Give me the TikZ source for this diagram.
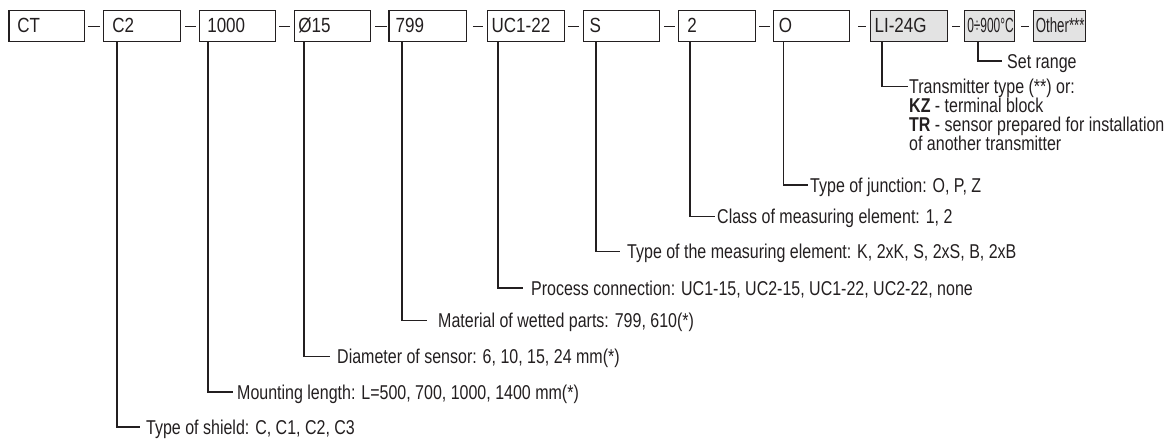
\documentclass[tikz,border=0pt]{standalone}
\usepackage{graphicx}
\usepackage{fontspec}
\setmainfont[FakeStretch=0.8]{Liberation Sans}
\newfontfamily\bxfont[FakeStretch=0.83]{Liberation Sans}
\definecolor{boxgray}{RGB}{227,227,227}
\definecolor{ink}{RGB}{35,31,32}
\begin{document}
\begin{tikzpicture}[x=1pt,y=-1pt,
  box/.style={draw=ink, text=ink, line width=1.2pt, anchor=north west, minimum height=31pt,
    inner ysep=0pt, align=left, text height=12pt, text depth=0pt,
    font=\bxfont\fontsize{20.5}{22}\selectfont},
  gbox/.style={box, fill=boxgray},
  lbl/.style={anchor=base west, inner sep=0pt, text=ink, font=\fontsize{20}{20}\selectfont},
  conn/.style={draw=ink, line width=1.2pt}]
\useasboundingbox (0,0) rectangle (1172,439);

% code boxes
\node[box, inner xsep=8.4pt, text width=58.9pt] (b1) at (8.3,10) {CT};
\node[box, inner xsep=8.7pt, text width=59.6pt] (b2) at (103,10) {C2};
\node[box, inner xsep=7.7pt, text width=60.6pt] (b3) at (199,10) {1000};
\node[box, inner xsep=3.7pt, text width=68.6pt] (b4) at (294,10) {Ø15};
\node[box, inner xsep=6.7pt, text width=64pt] (b5) at (388.3,10) {799};
\node[box, inner xsep=4pt, text width=69pt] (b6) at (487,10) {UC1-22};
\node[box, inner xsep=6pt, text width=64pt] (b7) at (583,10) {S};
\node[box, inner xsep=8.7pt, text width=59.1pt] (b8) at (678,10) {2};
\node[box, inner xsep=5.8pt, text width=64.9pt] (b9) at (772.5,10) {O};
\node[gbox, inner xsep=4.5pt, text width=68.5pt] (b10) at (869.5,10) {LI-24G};
\node[gbox, inner xsep=2.7pt, text width=44.6pt] (b11) at (964,10) {\scalebox{0.7}[1]{0÷900°C}};
\node[gbox, inner xsep=2.5pt, text width=47.3pt] (b12) at (1032.7,10) {\scalebox{0.78}[1]{Other***}};

% dashes between boxes
\draw[conn, shorten <=3pt, shorten >=3.5pt] (b1.east) -- (b2.west);
\draw[conn, shorten <=4pt, shorten >=3pt] (b2.east) -- (b3.west);
\draw[conn, shorten <=3pt, shorten >=4pt] (b3.east) -- (b4.west);
\draw[conn, shorten <=4pt, shorten >=1.5pt] (b4.east) -- (b5.west);
\draw[conn, shorten <=6pt, shorten >=4pt] (b5.east) -- (b6.west);
\draw[conn, shorten <=3pt, shorten >=4pt] (b6.east) -- (b7.west);
\draw[conn, shorten <=4pt, shorten >=3pt] (b7.east) -- (b8.west);
\draw[conn, shorten <=3.5pt, shorten >=2.5pt] (b8.east) -- (b9.west);
\draw[conn, shorten <=8pt, shorten >=3.5pt] (b9.east) -- (b10.west);
\draw[conn, shorten <=4pt, shorten >=4pt] (b10.east) -- (b11.west);
\draw[conn, shorten <=6pt, shorten >=3.7pt] (b11.east) -- (b12.west);

% labels
\node[lbl] (l2) at (146,434) {Type of shield: C, C1, C2, C3};
\node[lbl] (l3) at (237,399) {Mounting length: L=500, 700, 1000, 1400 mm(*)};
\node[lbl] (l4) at (337,363.7) {Diameter of sensor: 6, 10, 15, 24 mm(*)};
\node[lbl] (l5) at (438,327.7) {Material of wetted parts: 799, 610(*)};
\node[lbl] (l6) at (531,295) {Process connection: UC1-15, UC2-15, UC1-22, UC2-22, none};
\node[lbl] (l7) at (627,258.7) {Type of the measuring element: K, 2xK, S, 2xS, B, 2xB};
\node[lbl] (l8) at (717,223.7) {Class of measuring element: 1, 2};
\node[lbl] (l9) at (810,192) {Type of junction: O, P, Z};
\node[lbl] (l10) at (909,93.5) {Transmitter type (**) or:};
\node[lbl] (l10b) at (909,112.5) {\textbf{KZ} - terminal block};
\node[lbl] (l10c) at (909,131.5) {\textbf{TR} - sensor prepared for installation};
\node[lbl] (l10d) at (909,150.5) {of another transmitter};
\node[lbl] (l11) at (1007,68) {Set range};

% leader lines
\draw[conn] ([xshift=14pt]b2.south west) |- ([shift={(-6pt,7pt)}]l2.base west);
\draw[conn] ([xshift=9pt]b3.south west) |- ([shift={(-4pt,7pt)}]l3.base west);
\draw[conn] ([xshift=10pt]b4.south west) |- ([shift={(-7pt,7pt)}]l4.base west);
\draw[conn] ([xshift=13.7pt]b5.south west) |- ([shift={(-11pt,7pt)}]l5.base west);
\draw[conn] ([xshift=11pt]b6.south west) |- ([shift={(-8pt,7pt)}]l6.base west);
\draw[conn] ([xshift=13pt]b7.south west) |- ([shift={(-7pt,7pt)}]l7.base west);
\draw[conn] ([xshift=12pt]b8.south west) |- ([shift={(-2pt,7pt)}]l8.base west);
\draw[conn] ([xshift=11pt]b9.south west) |- ([shift={(-2pt,7pt)}]l9.base west);
\draw[conn] ([xshift=12.5pt]b10.south west) |- ([shift={(-1pt,7pt)}]l10.base west);
\draw[conn] ([xshift=14pt]b11.south west) |- ([shift={(-5pt,7pt)}]l11.base west);
\end{tikzpicture}
\end{document}
